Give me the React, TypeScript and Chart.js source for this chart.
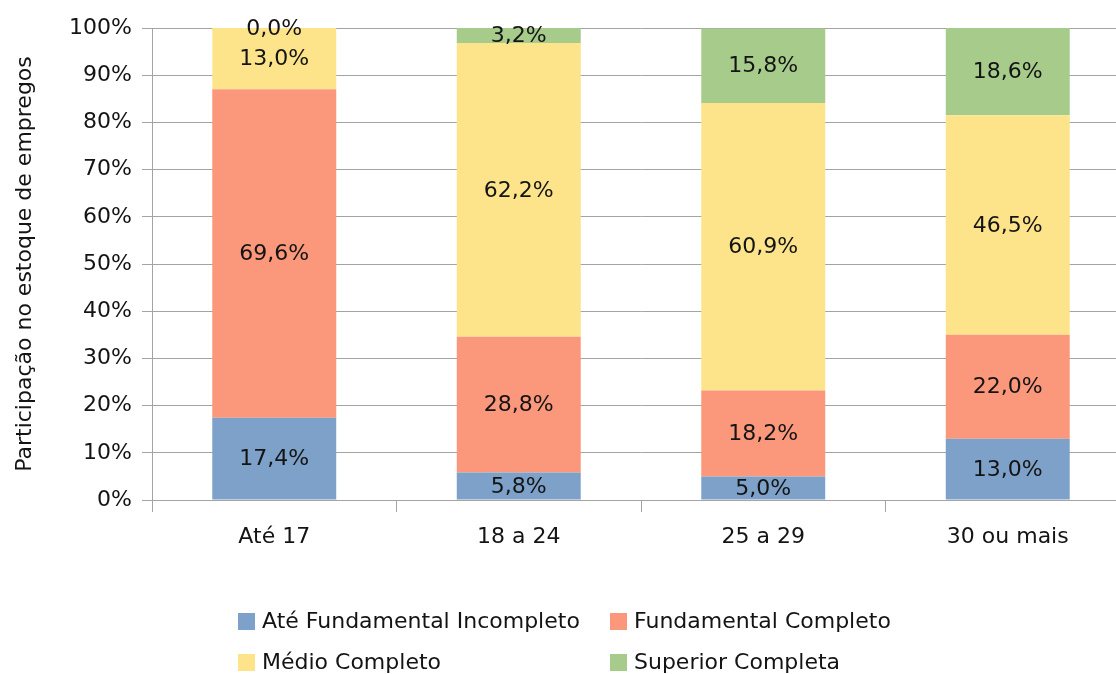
import React, { useEffect, useRef } from "react";
import { Chart, registerables } from "chart.js";

Chart.register(...registerables);

const categories = ["Até 17", "18 a 24", "25 a 29", "30 ou mais"];
const seriesNames = [
  "Até Fundamental Incompleto",
  "Fundamental Completo",
  "Médio Completo",
  "Superior Completa",
];
const ateFundIncompleto = [17.4, 5.8, 5.0, 13.0];
const fundCompleto = [69.6, 28.8, 18.2, 22.0];
const medioCompleto = [13.0, 62.2, 60.9, 46.5];
const superiorCompleta = [0.0, 3.2, 15.8, 18.6];
const yTicks = [0, 10, 20, 30, 40, 50, 60, 70, 80, 90, 100];

const colors = ["#7da1c8", "#fb987b", "#fde48a", "#a7cb8b"];
const FONT = "'DejaVu Sans', sans-serif";
const TEXT = "#141414";
const GRID = "#a4a4a4";

const fmt = (v: number) => v.toFixed(1).replace(".", ",") + "%";

const valueLabels = {
  id: "valueLabels",
  afterDraw(chart: any) {
    const ctx = chart.ctx;
    ctx.save();
    ctx.font = `22px ${FONT}`;
    ctx.fillStyle = TEXT;
    ctx.textAlign = "center";
    ctx.textBaseline = "middle";
    chart.data.datasets.forEach((ds: any, di: number) => {
      const meta = chart.getDatasetMeta(di);
      meta.data.forEach((el: any, i: number) => {
        const v = ds.data[i];
        const cy = (el.y + el.base) / 2;
        ctx.fillText(fmt(v), el.x, cy + 1);
      });
    });
    ctx.restore();
  },
};

const gridLegend = {
  id: "gridLegend",
  afterDraw(chart: any) {
    const ctx = chart.ctx;
    const colX = [238, 610];
    const rowY = [621, 662];
    ctx.save();
    ctx.font = `22px ${FONT}`;
    ctx.textBaseline = "middle";
    ctx.textAlign = "left";
    chart.data.datasets.forEach((ds: any, di: number) => {
      const col = di % 2;
      const row = Math.floor(di / 2);
      const x = colX[col];
      const y = rowY[row];
      ctx.fillStyle = ds.backgroundColor;
      ctx.fillRect(x, y - 8, 17, 17);
      ctx.fillStyle = TEXT;
      ctx.fillText(ds.label, x + 24, y + 1);
    });
    ctx.restore();
  },
};

export default function App() {
  const ref = useRef<HTMLCanvasElement>(null);
  useEffect(() => {
    if (!ref.current) return;
    const seriesData = [ateFundIncompleto, fundCompleto, medioCompleto, superiorCompleta];
    const chart = new Chart(ref.current, {
      type: "bar",
      data: {
        labels: categories,
        datasets: seriesNames.map((name, i) => ({
          label: name,
          data: seriesData[i],
          backgroundColor: colors[i],
          borderWidth: 0,
          categoryPercentage: 1,
          barPercentage: 0.507,
        })),
      },
      options: {
        responsive: false,
        animation: false,
        devicePixelRatio: 1,
        layout: { padding: { top: 28, bottom: 110, left: 0, right: 0 } },
        plugins: {
          legend: { display: false },
          tooltip: { enabled: false },
        },
        scales: {
          x: {
            stacked: true,
            grid: {
              display: true,
              drawOnChartArea: false,
              drawTicks: true,
              tickLength: 12,
              offset: true,
              color: GRID,
            },
            border: { display: true, color: GRID },
            ticks: {
              color: TEXT,
              font: { family: FONT, size: 22 },
              padding: 12,
              maxRotation: 0,
            },
            afterFit: (s: any) => {
              s.height = 64;
            },
          },
          y: {
            stacked: true,
            min: 0,
            max: 100,
            z: 1,
            afterBuildTicks: (s: any) => {
              s.ticks = yTicks.map((v) => ({ value: v }));
            },
            grid: {
              color: GRID,
              tickLength: 10,
              drawTicks: true,
            },
            border: { display: true, color: GRID },
            ticks: {
              color: TEXT,
              font: { family: FONT, size: 22 },
              padding: 10,
              callback: (v: any) => v + "%",
            },
            title: {
              display: true,
              text: "Participação no estoque de empregos",
              color: TEXT,
              font: { family: FONT, size: 22 },
              padding: { top: 12, bottom: 0 },
            },
            afterFit: (s: any) => {
              s.width = 152;
            },
          },
        },
      },
      plugins: [valueLabels, gridLegend],
    });
    return () => chart.destroy();
  }, []);
  return (
    <div
      style={{
        position: "absolute",
        left: 0,
        top: 0,
        width: 1116,
        height: 674,
        overflow: "hidden",
        background: "#fff",
      }}
    >
      <canvas ref={ref} width={1130} height={674} style={{ display: "block" }} />
    </div>
  );
}
